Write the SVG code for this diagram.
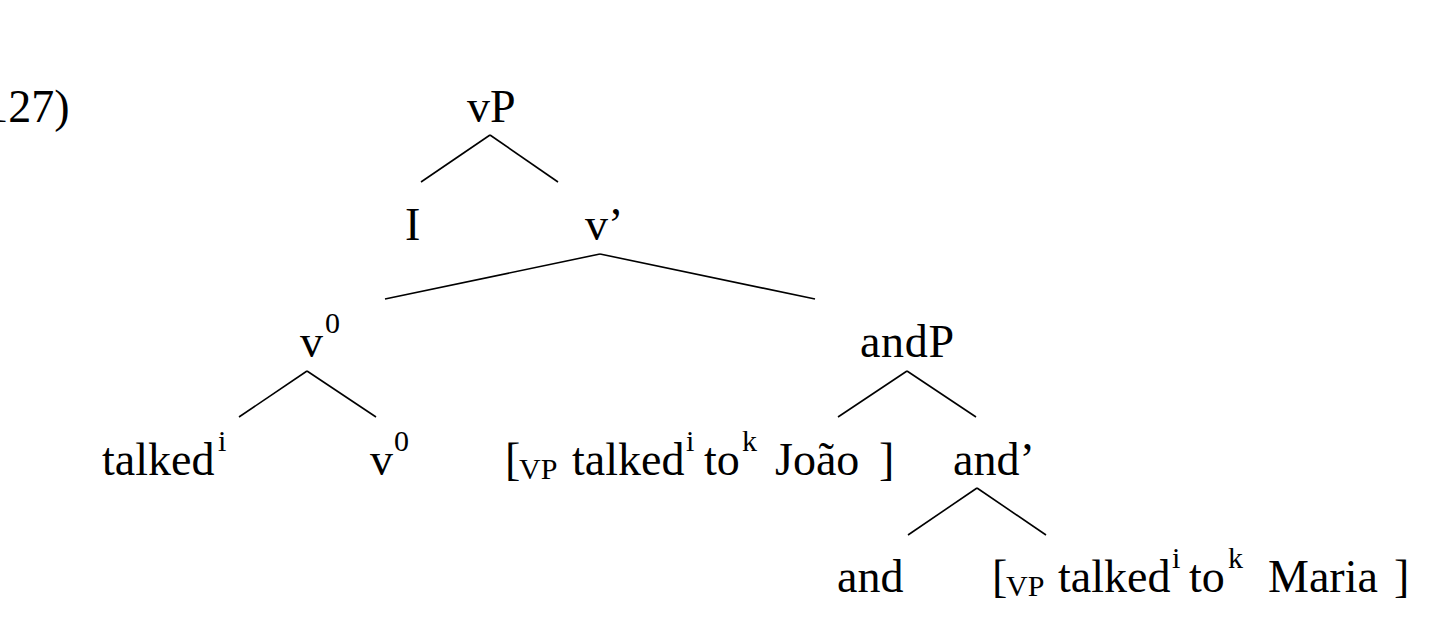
<svg xmlns="http://www.w3.org/2000/svg" width="1438" height="618" viewBox="0 0 1438 618">
<style>
text{font-family:"Liberation Serif","Times New Roman",serif;font-size:46px;fill:#000}
.s{font-size:30px}
.e line{stroke:#000;stroke-width:1.6;stroke-linecap:butt}
</style>
<rect width="1438" height="618" fill="#fff"/>
<g id="label"><text x="-30" y="122">(127)</text></g>
<g id="n-vP"><text x="467" y="122">vP</text></g>
<g id="n-I"><text x="405" y="240">I</text></g>
<g id="n-vbar"><text x="585" y="240">v’</text></g>
<g id="n-v0"><text x="300" y="357">v<tspan class="s" x="325" y="333">0</tspan></text></g>
<g id="n-andP"><text x="860" y="357" textLength="94" lengthAdjust="spacing">andP</text></g>
<g id="n-talked"><text x="102" y="475">talked<tspan class="s" x="218" y="451">i</tspan></text></g>
<g id="n-v0b"><text x="370" y="475">v<tspan class="s" x="394" y="451">0</tspan></text></g>
<g id="n-joao"><text x="505" y="475">[<tspan class="s" x="519" y="479">VP</tspan><tspan x="572" y="475">talked</tspan><tspan class="s" x="686" y="451">i</tspan><tspan x="704" y="475">to</tspan><tspan class="s" x="742" y="451">k</tspan><tspan x="775" y="475">João</tspan><tspan x="879" y="475">]</tspan></text></g>
<g id="n-andbar"><text x="953" y="475">and’</text></g>
<g id="n-and"><text x="837" y="592">and</text></g>
<g id="n-maria"><text x="992" y="592">[<tspan class="s" x="1006" y="596">VP</tspan><tspan x="1058" y="592">talked</tspan><tspan class="s" x="1172" y="568">i</tspan><tspan x="1189" y="592">to</tspan><tspan class="s" x="1228" y="568">k</tspan><tspan x="1268" y="592">Maria</tspan><tspan x="1394" y="592">]</tspan></text></g>
<g id="edges" class="e">
<line x1="490" y1="135" x2="421" y2="182"/>
<line x1="490" y1="135" x2="558" y2="182"/>
<line x1="600" y1="254" x2="385" y2="299"/>
<line x1="600" y1="254" x2="815" y2="299"/>
<line x1="307" y1="371" x2="239" y2="417"/>
<line x1="307" y1="371" x2="376" y2="417"/>
<line x1="907" y1="371" x2="838" y2="417"/>
<line x1="907" y1="371" x2="976" y2="417"/>
<line x1="977" y1="488" x2="908" y2="535"/>
<line x1="977" y1="488" x2="1046" y2="535"/>
</g>
</svg>
